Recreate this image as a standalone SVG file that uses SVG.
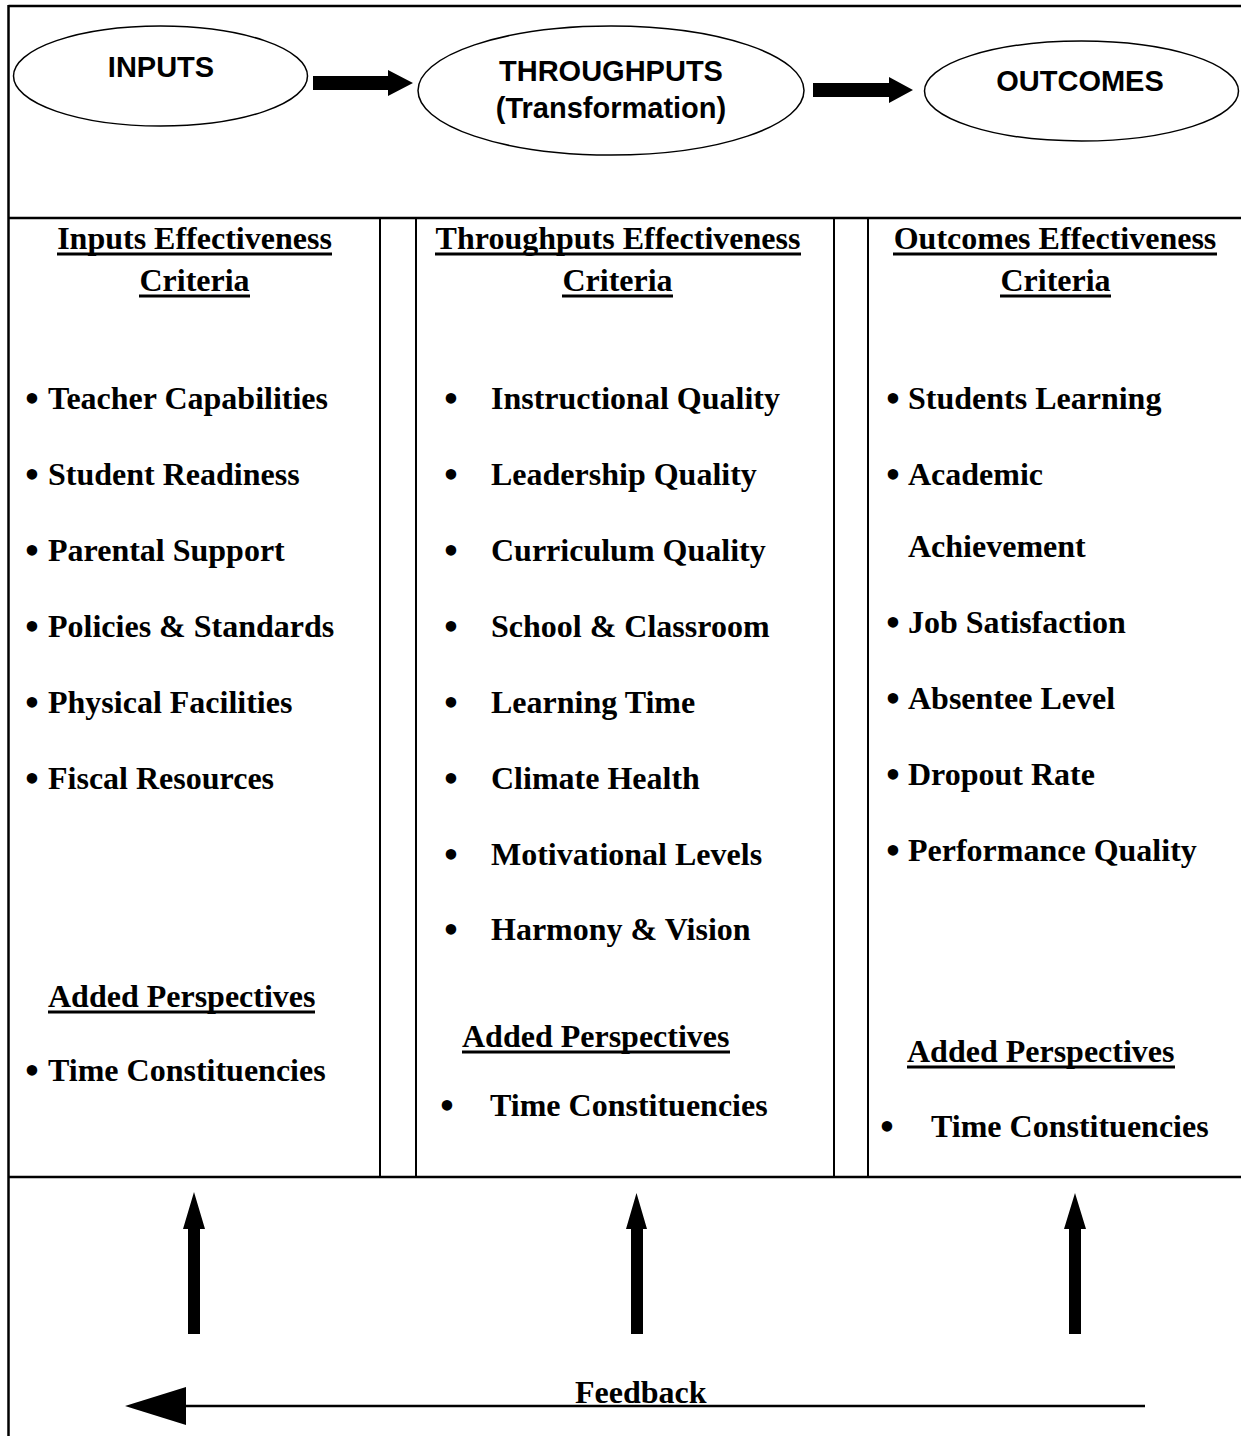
<svg xmlns="http://www.w3.org/2000/svg" width="1241" height="1436" viewBox="0 0 1241 1436">
<style>
.frame{stroke:#000;stroke-width:2.5;fill:none}
.col{stroke:#000;stroke-width:2;fill:none}
.ell{fill:#fff;stroke:#000;stroke-width:1.5}
.et{font-family:"Liberation Sans",Arial,sans-serif;font-weight:bold;font-size:29px;fill:#000;text-anchor:middle}
.t{font-family:"Liberation Serif","Times New Roman",serif;font-weight:bold;font-size:32px;fill:#000}
.c{text-anchor:middle}
.b{font-family:"Liberation Serif","Times New Roman",serif;font-size:44px;fill:#000;text-anchor:middle}
.ul{stroke:#000;stroke-width:3}
</style>
<rect width="1241" height="1436" fill="#fff"/>
<g id="frame">
<line class="frame" x1="8.5" y1="6" x2="1241" y2="6"/>
<line class="frame" x1="8.5" y1="5" x2="8.5" y2="1436"/>
<line class="frame" x1="8.5" y1="218" x2="1241" y2="218"/>
<line class="frame" x1="8.5" y1="1177" x2="1241" y2="1177"/>
<line class="col" x1="380" y1="218" x2="380" y2="1177"/>
<line class="col" x1="416" y1="218" x2="416" y2="1177"/>
<line class="col" x1="834" y1="218" x2="834" y2="1177"/>
<line class="col" x1="868" y1="218" x2="868" y2="1177"/>
</g>
<g id="node-inputs">
<ellipse class="ell" cx="160.5" cy="76" rx="147" ry="50"/>
<text class="et" x="161" y="77">INPUTS</text>
</g>
<g id="node-throughputs">
<ellipse class="ell" cx="611" cy="90.5" rx="193" ry="64.5"/>
<text class="et" x="611" y="81">THROUGHPUTS</text>
<text class="et" x="611" y="118">(Transformation)</text>
</g>
<g id="node-outcomes">
<ellipse class="ell" cx="1081.5" cy="91" rx="157" ry="50"/>
<text class="et" x="1080" y="91">OUTCOMES</text>
</g>
<g id="connectors" fill="#000">
<polygon points="313,76 388,76 388,70 413,83 388,96 388,90 313,90"/>
<polygon points="813,83 889,83 889,77 913,90 889,103 889,97 813,97"/>
<polygon points="194,1192 205,1229 200,1229 200,1334 188,1334 188,1229 183,1229"/>
<polygon points="636.5,1193 647,1229 643,1229 643,1334 631,1334 631,1229 626,1229"/>
<polygon points="1075,1193 1086,1229 1081,1229 1081,1334 1069,1334 1069,1229 1064,1229"/>
<line x1="185" y1="1406" x2="1145" y2="1406" stroke="#000" stroke-width="2.5"/>
<polygon points="125,1406 186,1387 186,1425"/>
</g>
<g id="col-inputs">
<text class="t c" x="194.5" y="249">Inputs Effectiveness</text>
<line class="ul" x1="57" y1="254" x2="332" y2="254"/>
<text class="t c" x="194.5" y="291">Criteria</text>
<line class="ul" x1="139" y1="296" x2="250" y2="296"/>
<text class="b" x="32" y="413">•</text><text class="t" x="48" y="409">Teacher Capabilities</text>
<text class="b" x="32" y="489">•</text><text class="t" x="48" y="485">Student Readiness</text>
<text class="b" x="32" y="565">•</text><text class="t" x="48" y="561">Parental Support</text>
<text class="b" x="32" y="641">•</text><text class="t" x="48" y="637">Policies &amp; Standards</text>
<text class="b" x="32" y="717">•</text><text class="t" x="48" y="713">Physical Facilities</text>
<text class="b" x="32" y="793">•</text><text class="t" x="48" y="789">Fiscal Resources</text>
<text class="t" x="48" y="1007">Added Perspectives</text>
<line class="ul" x1="48" y1="1012" x2="315" y2="1012"/>
<text class="b" x="32" y="1085">•</text><text class="t" x="48" y="1081">Time Constituencies</text>
</g>
<g id="col-throughputs">
<text class="t c" x="618" y="249">Throughputs Effectiveness</text>
<line class="ul" x1="435" y1="254" x2="801" y2="254"/>
<text class="t c" x="617.5" y="291">Criteria</text>
<line class="ul" x1="562" y1="296" x2="673" y2="296"/>
<text class="b" x="451" y="413">•</text><text class="t" x="491" y="409">Instructional Quality</text>
<text class="b" x="451" y="489">•</text><text class="t" x="491" y="485">Leadership Quality</text>
<text class="b" x="451" y="565">•</text><text class="t" x="491" y="561">Curriculum Quality</text>
<text class="b" x="451" y="641">•</text><text class="t" x="491" y="637">School &amp; Classroom</text>
<text class="b" x="451" y="717">•</text><text class="t" x="491" y="713">Learning Time</text>
<text class="b" x="451" y="793">•</text><text class="t" x="491" y="789">Climate Health</text>
<text class="b" x="451" y="869">•</text><text class="t" x="491" y="865">Motivational Levels</text>
<text class="b" x="451" y="944">•</text><text class="t" x="491" y="940">Harmony &amp; Vision</text>
<text class="t" x="462" y="1047">Added Perspectives</text>
<line class="ul" x1="462" y1="1052" x2="730" y2="1052"/>
<text class="b" x="447" y="1120">•</text><text class="t" x="490" y="1116">Time Constituencies</text>
</g>
<g id="col-outcomes">
<text class="t c" x="1055" y="249">Outcomes Effectiveness</text>
<line class="ul" x1="893" y1="254" x2="1217" y2="254"/>
<text class="t c" x="1055.5" y="291">Criteria</text>
<line class="ul" x1="1000" y1="296" x2="1111" y2="296"/>
<text class="b" x="893" y="413">•</text><text class="t" x="908" y="409">Students Learning</text>
<text class="b" x="893" y="489">•</text><text class="t" x="908" y="485">Academic</text>
<text class="t" x="908" y="557">Achievement</text>
<text class="b" x="893" y="637">•</text><text class="t" x="908" y="633">Job Satisfaction</text>
<text class="b" x="893" y="713">•</text><text class="t" x="908" y="709">Absentee Level</text>
<text class="b" x="893" y="789">•</text><text class="t" x="908" y="785">Dropout Rate</text>
<text class="b" x="893" y="865">•</text><text class="t" x="908" y="861">Performance Quality</text>
<text class="t" x="907" y="1062">Added Perspectives</text>
<line class="ul" x1="907" y1="1067" x2="1175" y2="1067"/>
<text class="b" x="887" y="1141">•</text><text class="t" x="931" y="1137">Time Constituencies</text>
</g>
<g id="feedback">
<text class="t" x="575" y="1403">Feedback</text>
</g>
</svg>
